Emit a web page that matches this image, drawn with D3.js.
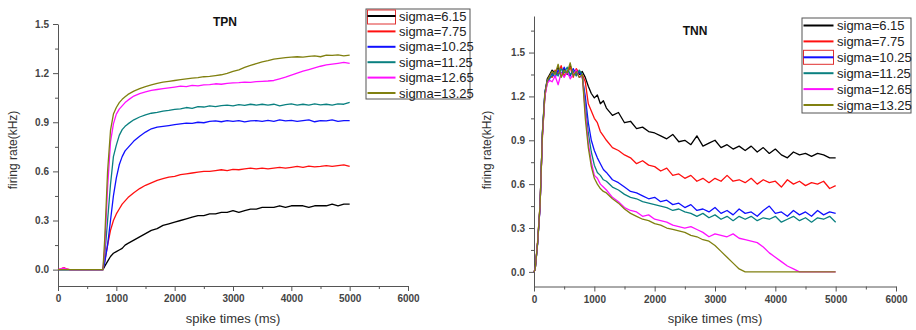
<!DOCTYPE html>
<head>
  <meta charset="utf-8">
  <script src="https://d3js.org/d3.v7.min.js"></script>
  <style>
    body { margin: 0; background: #fff; }
    text { font-family: Arial, "Liberation Sans", sans-serif; }
    .tick text { font-size: 10px; font-weight: bold; fill: #444; }
    .tick line, .domain { stroke: #555; }
  </style>
</head>

<body>
  <script>

  // ---- data ----
  var sigmaLabels = ["sigma=6.15", "sigma=7.75", "sigma=10.25", "sigma=11.25", "sigma=12.65", "sigma=13.25"];
  var sigmaColors = ["#000000", "#ff1010", "#1010ff", "#0a8080", "#ff10ff", "#808010"];

  var tpnTimes = [0,50,100,150,200,300,400,500,600,700,770,
    800,850,900,950,1000,1050,1100,1150,
    1200,1300,1400,1500,1600,1700,1800,1900,2000,2100,2200,2300,2400,2500,2600,2700,2800,2900,3000,
    3100,3200,3300,3400,3500,3600,3700,3800,3900,4000,4100,4200,4300,4400,4500,4600,4700,4800,4900,5000];

  var tpn615 = [0,0,0,0,0,0,0,0,0,0,0,
    0.02,0.05,0.08,0.10,0.11,0.12,0.13,0.15,
    0.16,0.18,0.20,0.22,0.24,0.25,0.27,0.28,0.29,0.30,0.31,0.32,0.33,0.33,0.34,0.34,0.35,0.35,0.36,
    0.35,0.36,0.37,0.37,0.38,0.38,0.38,0.39,0.38,0.39,0.39,0.39,0.38,0.39,0.39,0.39,0.40,0.39,0.40,0.40];
  var tpn775 = [0,0.005,0.012,0.004,0,0,0,0,0,0,0,
    0.05,0.15,0.24,0.30,0.34,0.37,0.40,0.42,
    0.44,0.47,0.495,0.515,0.53,0.545,0.555,0.565,0.57,0.58,0.585,0.59,0.595,0.60,0.60,0.605,0.61,0.605,0.612,
    0.61,0.615,0.62,0.615,0.62,0.615,0.62,0.625,0.62,0.625,0.63,0.625,0.632,0.628,0.63,0.635,0.63,0.635,0.64,0.63];
  var tpn1025 = [0,0,0,0,0,0,0,0,0,0,0,
    0.04,0.15,0.30,0.45,0.56,0.64,0.69,0.725,
    0.745,0.785,0.815,0.84,0.86,0.87,0.875,0.88,0.885,0.89,0.895,0.893,0.90,0.897,0.905,0.908,0.903,0.91,0.905,
    0.91,0.902,0.908,0.91,0.905,0.912,0.906,0.915,0.908,0.912,0.905,0.91,0.915,0.903,0.91,0.908,0.914,0.905,0.91,0.91];
  var tpn1125 = [0,0,0,0,0,0,0,0,0,0,0,
    0.08,0.30,0.52,0.69,0.76,0.82,0.855,0.875,
    0.89,0.915,0.932,0.945,0.955,0.96,0.968,0.972,0.978,0.982,0.99,0.985,0.995,0.993,1.0,0.995,1.002,1.005,1.0,
    1.008,1.003,1.01,1.005,1.01,1.004,1.01,1.0,1.008,1.012,1.005,1.01,1.004,1.012,1.006,1.01,1.005,1.012,1.01,1.022];
  var tpn1265 = [0,0.004,0.01,0.003,0,0,0,0,0,0,0,
    0.12,0.50,0.78,0.89,0.95,0.98,1.0,1.02,
    1.035,1.06,1.075,1.085,1.095,1.10,1.105,1.11,1.115,1.12,1.118,1.125,1.122,1.128,1.13,1.135,1.132,1.138,1.14,
    1.142,1.145,1.143,1.148,1.15,1.152,1.155,1.165,1.175,1.188,1.2,1.212,1.222,1.232,1.242,1.25,1.255,1.26,1.265,1.26];
  var tpn1325 = [0,0,0,0,0,0,0,0,0,0,0,
    0.18,0.60,0.85,0.95,0.99,1.02,1.04,1.055,
    1.07,1.09,1.105,1.118,1.128,1.138,1.145,1.15,1.155,1.16,1.165,1.17,1.172,1.178,1.18,1.185,1.19,1.198,1.21,
    1.22,1.235,1.248,1.258,1.268,1.276,1.285,1.29,1.295,1.298,1.30,1.298,1.302,1.305,1.30,1.31,1.308,1.312,1.305,1.31];

  var tnnTimes = [0,20,60,100,140,180,220,260,300,
    350,400,450,500,550,600,650,700,750,800,
    850,900,950,1000,1050,1100,1150,1200,
    1300,1400,1500,1600,1700,1800,1900,2000,2100,2200,2300,2400,2500,2600,2700,2800,2900,3000,
    3100,3200,3300,3400,3500,3600,3700,3800,3900,4000,4100,4200,4300,4400,4500,4600,4700,4800,4900,5000];

  var tnn615 = [0,0.02,0.2,0.45,0.95,1.22,1.32,1.35,1.38,
    1.36,1.40,1.34,1.39,1.35,1.41,1.36,1.38,1.35,1.37,
    1.33,1.27,1.22,1.19,1.21,1.15,1.17,1.12,
    1.07,1.09,1.02,1.03,0.98,0.99,0.96,0.95,0.93,0.91,0.94,0.89,0.90,0.87,0.93,0.86,0.88,0.90,
    0.85,0.87,0.84,0.86,0.83,0.86,0.82,0.85,0.81,0.84,0.80,0.78,0.82,0.80,0.81,0.79,0.81,0.80,0.78,0.78];
  var tnn775 = [0,0.02,0.21,0.46,0.93,1.2,1.3,1.34,1.33,
    1.38,1.35,1.41,1.34,1.37,1.40,1.33,1.39,1.36,1.35,
    1.30,1.15,1.10,1.05,1.02,0.96,0.93,0.90,
    0.85,0.83,0.80,0.78,0.74,0.76,0.73,0.72,0.69,0.71,0.66,0.67,0.64,0.66,0.62,0.64,0.61,0.64,
    0.62,0.66,0.62,0.63,0.61,0.64,0.60,0.63,0.61,0.62,0.58,0.63,0.60,0.62,0.59,0.61,0.60,0.62,0.57,0.59];
  var tnn1025 = [0,0.02,0.19,0.44,0.96,1.23,1.31,1.32,1.36,
    1.33,1.38,1.35,1.40,1.36,1.34,1.39,1.35,1.37,1.33,
    1.20,1.02,0.90,0.83,0.78,0.74,0.70,0.68,
    0.63,0.61,0.58,0.55,0.54,0.52,0.50,0.51,0.48,0.49,0.46,0.47,0.44,0.46,0.42,0.43,0.41,0.44,
    0.40,0.42,0.39,0.43,0.40,0.41,0.38,0.42,0.45,0.40,0.41,0.38,0.42,0.39,0.41,0.38,0.42,0.39,0.41,0.40];
  var tnn1125 = [0,0.02,0.2,0.45,0.94,1.21,1.30,1.33,1.34,
    1.37,1.34,1.39,1.36,1.40,1.35,1.37,1.34,1.38,1.35,
    1.15,0.95,0.82,0.73,0.68,0.66,0.63,0.62,
    0.58,0.56,0.53,0.51,0.50,0.48,0.47,0.46,0.45,0.44,0.42,0.43,0.41,0.40,0.38,0.40,0.37,0.39,
    0.36,0.38,0.35,0.38,0.36,0.38,0.35,0.37,0.36,0.38,0.34,0.36,0.38,0.35,0.37,0.34,0.37,0.36,0.38,0.34];
  var tnn1265 = [0,0.02,0.2,0.44,0.93,1.2,1.29,1.31,1.30,
    1.34,1.28,1.36,1.33,1.37,1.32,1.35,1.38,1.33,1.34,
    1.10,0.88,0.75,0.66,0.64,0.60,0.58,0.56,
    0.51,0.48,0.44,0.42,0.41,0.38,0.39,0.36,0.35,0.34,0.32,0.31,0.30,0.31,0.29,0.27,0.24,0.26,
    0.25,0.24,0.26,0.23,0.22,0.21,0.20,0.17,0.13,0.10,0.07,0.04,0.02,0,0,0,0,0,0,0];
  var tnn1325 = [0,0.02,0.2,0.45,0.95,1.22,1.31,1.34,1.37,
    1.35,1.42,1.33,1.38,1.36,1.43,1.34,1.37,1.33,1.35,
    1.05,0.85,0.72,0.64,0.60,0.57,0.55,0.54,
    0.50,0.47,0.43,0.40,0.38,0.36,0.35,0.33,0.32,0.30,0.29,0.28,0.27,0.25,0.24,0.22,0.21,0.18,
    0.14,0.10,0.06,0.02,0,0,0,0,0,0,0,0,0,0,0,0,0,0,0,0];

  var xMajorTicks = [0,1000,2000,3000,4000,5000,6000];
  var xMinorTicks = [500,1500,2500,3500,4500,5500];
  var tpnYTicks = [0,0.3,0.6,0.9,1.2,1.5];
  var tpnYMinor = [0.15,0.45,0.75,1.05,1.35];
  var tnnYTicks = [0,0.3,0.6,0.9,1.2,1.5];
  var tnnYMinor = [0.15,0.45,0.75,1.05,1.35,1.65];

  var svg = d3.select("body").append("svg")
    .attr("width", 916)
    .attr("height", 330);

  function drawPanel(p) {
    var x = d3.scaleLinear().domain([0, 6000]).range(p.xRange);
    var y = d3.scaleLinear().domain(p.yDomain).range(p.yRange);
    var g = svg.append("g");

    // minor ticks
    g.append("g")
      .attr("transform", "translate(0," + p.yRange[0] + ")")
      .call(d3.axisBottom(x).tickValues(xMinorTicks).tickSize(3).tickFormat(""))
      .call(function(s) { s.select(".domain").remove(); });
    g.append("g")
      .attr("transform", "translate(" + p.xRange[0] + ",0)")
      .call(d3.axisLeft(y).tickValues(p.yMinor).tickSize(3).tickFormat(""))
      .call(function(s) { s.select(".domain").remove(); });

    // major axes
    g.append("g")
      .attr("transform", "translate(0," + p.yRange[0] + ")")
      .call(d3.axisBottom(x).tickValues(xMajorTicks).tickSize(5).tickSizeOuter(0).tickPadding(4).tickFormat(d3.format("d")));
    g.append("g")
      .attr("transform", "translate(" + p.xRange[0] + ",0)")
      .call(d3.axisLeft(y).tickValues(p.yTicks).tickSize(5).tickSizeOuter(0).tickPadding(4).tickFormat(d3.format(".1f")));

    var line = d3.line()
      .x(function(d) { return x(d[0]); })
      .y(function(d) { return y(d[1]); });

    p.series.forEach(function(vals, i) {
      var pts = p.times.map(function(t, k) { return [t, vals[k]]; });
      g.append("path")
        .datum(pts)
        .attr("fill", "none")
        .attr("stroke", sigmaColors[i])
        .attr("stroke-width", 1.3)
        .attr("stroke-linejoin", "round")
        .attr("d", line);
    });

    // titles
    g.append("text")
      .attr("x", p.titlePos[0]).attr("y", p.titlePos[1])
      .attr("text-anchor", "middle")
      .style("font-size", "12px").style("font-weight", "bold")
      .attr("fill", "#111")
      .text(p.title);

    g.append("text")
      .attr("x", (p.xRange[0] + p.xRange[1]) / 2 + p.xLabelShift)
      .attr("y", 323)
      .attr("text-anchor", "middle")
      .style("font-size", "13px")
      .attr("fill", "#333")
      .text("spike times (ms)");

    g.append("text")
      .attr("transform", "translate(" + p.yLabelPos[0] + "," + p.yLabelPos[1] + ")rotate(-90)")
      .attr("text-anchor", "middle")
      .style("font-size", "12px")
      .attr("fill", "#333")
      .text("firing rate(kHz)");

    // legend
    var L = p.legend;
    var lg = g.append("g");
    lg.append("rect")
      .attr("x", L.x).attr("y", L.y)
      .attr("width", L.w).attr("height", L.h)
      .attr("fill", "#fff")
      .attr("stroke", "#555");
    sigmaLabels.forEach(function(lab, i) {
      var yy = L.y0 + i * L.step;
      if (i === L.boxed) {
        lg.append("rect")
          .attr("x", L.x + 1.5).attr("y", yy - L.boxUp)
          .attr("width", L.lineW).attr("height", 14)
          .attr("fill", "none")
          .attr("stroke", "#e03030");
      }
      lg.append("line")
        .attr("x1", L.x + 1.5).attr("x2", L.x + 1.5 + L.lineW)
        .attr("y1", yy).attr("y2", yy)
        .attr("stroke", sigmaColors[i])
        .attr("stroke-width", 2);
      lg.append("text")
        .attr("x", L.x + L.lineW + 5)
        .attr("y", yy)
        .attr("dy", "0.35em")
        .style("font-size", "13px")
        .attr("fill", "#222")
        .text(lab);
    });
  }

  drawPanel({
    xRange: [58, 408], yRange: [286, 24], yDomain: [-0.1, 1.5],
    yTicks: tpnYTicks, yMinor: tpnYMinor,
    times: tpnTimes,
    series: [tpn615, tpn775, tpn1025, tpn1125, tpn1265, tpn1325],
    title: "TPN", titlePos: [225, 26],
    xLabelShift: 0, yLabelPos: [17, 150],
    legend: { x: 366, y: 9, w: 104, h: 90, y0: 16, step: 15.4, lineW: 28, boxed: 0, boxUp: 6 }
  });

  drawPanel({
    xRange: [534, 896], yRange: [286.5, 16], yDomain: [-0.1, 1.75],
    yTicks: tnnYTicks, yMinor: tnnYMinor,
    times: tnnTimes,
    series: [tnn615, tnn775, tnn1025, tnn1125, tnn1265, tnn1325],
    title: "TNN", titlePos: [695, 35],
    xLabelShift: 0, yLabelPos: [491, 150],
    legend: { x: 802, y: 18, w: 109, h: 95, y0: 25.5, step: 15.9, lineW: 30, boxed: 2, boxUp: 7 }
  });

  </script>
</body>
